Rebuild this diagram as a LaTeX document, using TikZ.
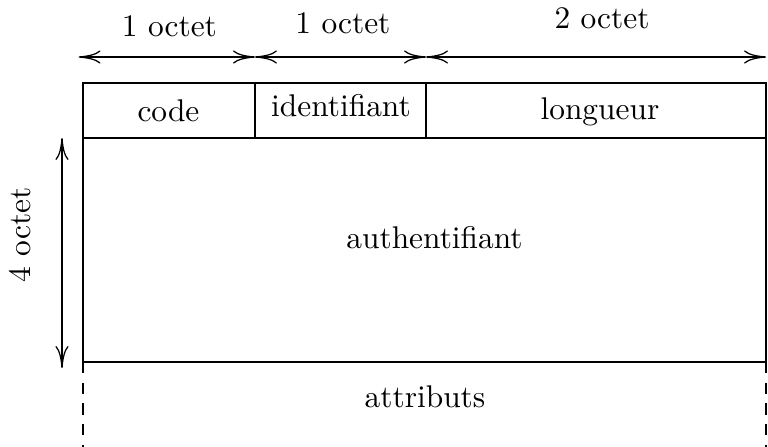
\documentclass[tikz,border=0pt]{standalone}
\usepackage{amsmath}
\usepackage{tikz}
\usetikzlibrary{arrows.meta}

\begin{document}
\begin{tikzpicture}[>={To[length=7pt,width=4.2pt]}]
  \useasboundingbox (-0.929,-0.951) rectangle (7.668,4.052);
  % box corners and dividers
  \coordinate (bl) at (0,0);
  \coordinate (br) at (7.646,0);
  \coordinate (tr) at (7.646,3.123);
  \coordinate (ml) at (0,2.507);
  \coordinate (mr) at (7.646,2.507);
  \coordinate (c1t) at (1.925,3.123);
  \coordinate (c1b) at (1.925,2.507);
  \coordinate (c2t) at (3.840,3.123);
  \coordinate (c2b) at (3.840,2.507);
  \draw[semithick] (bl) rectangle (tr);
  \draw[semithick] (ml) -- (mr);
  \draw[semithick] (c1b) -- (c1t);
  \draw[semithick] (c2b) -- (c2t);
  \coordinate (dl) at (0,-0.951);
  \coordinate (dr) at (7.646,-0.951);
  \draw[semithick, dash pattern=on 3.6pt off 3pt] (bl) -- (dl);
  \draw[semithick, dash pattern=on 3.6pt off 3pt] (br) -- (dr);
  % octet widths
  \coordinate (a0) at (-0.05,3.414);
  \coordinate (a1) at (1.925,3.414);
  \coordinate (a2) at (3.840,3.414);
  \coordinate (a3) at (7.646,3.414);
  \draw[<->] (a0) -- (a1);
  \draw[<->] (a1) -- (a2);
  \draw[<->] (a2) -- (a3);
  \node[anchor=base] (w1) at (0.968,3.649) {1 octet};
  \node[anchor=base] (w2) at (2.910,3.672) {1 octet};
  \node[anchor=base] (w3) at (5.810,3.728) {2 octet};
  \coordinate (v0) at (-0.235,2.507);
  \coordinate (v1) at (-0.235,-0.067);
  \draw[<->] (v0) -- (v1);
  \node[rotate=90, anchor=base] (h1) at (-0.582,1.422) {4 octet};
  % fields
  \node[anchor=base] (code) at (0.957,2.687) {code};
  \node[anchor=base] (ident) at (2.888,2.743) {identifiant};
  \node[anchor=base] (long) at (5.787,2.709) {longueur};
  \node[anchor=base] (auth) at (3.935,1.276) {authentifiant};
  \node[anchor=base] (attr) at (3.828,-0.504) {attributs};
\end{tikzpicture}
\end{document}
